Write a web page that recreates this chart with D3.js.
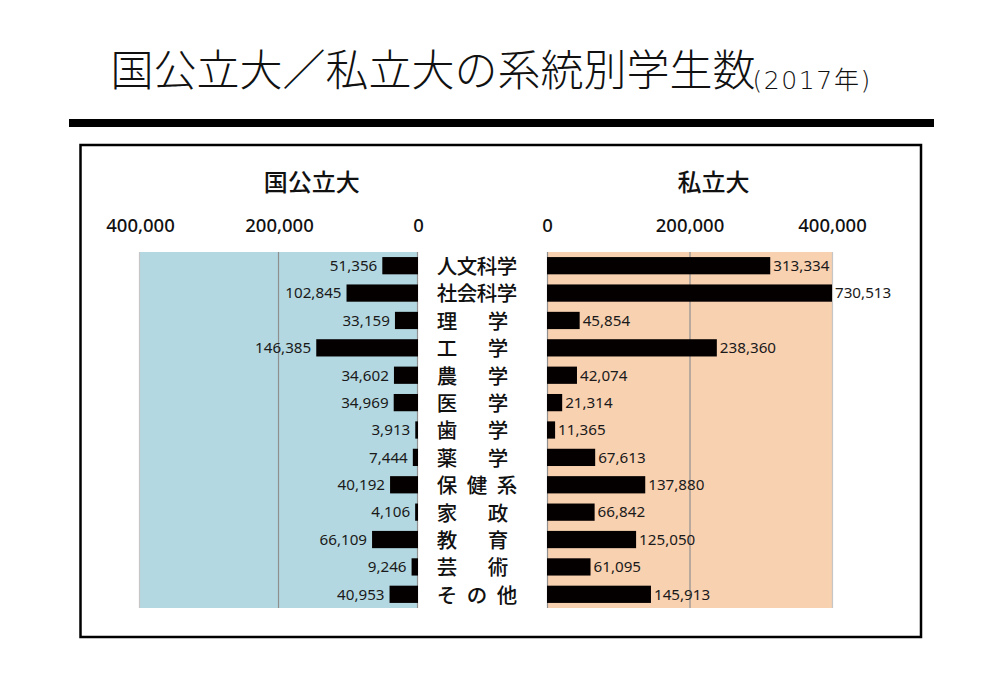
<!DOCTYPE html>
<html><head><meta charset="utf-8">
<script src="https://cdn.jsdelivr.net/npm/d3@7"></script>
<style>body{margin:0;background:#fff}</style>
</head><body><svg id="c" width="1000" height="700"></svg>
<script>
const categories = ["人文科学","社会科学","理学","工学","農学","医学","歯学","薬学","保健系","家政","教育","芸術","その他"];
const publicValues = [51356,102845,33159,146385,34602,34969,3913,7444,40192,4106,66109,9246,40953];
const privateValues = [313334,730513,45854,238360,42074,21314,11365,67613,137880,66842,125050,61095,145913];
const tickValues = [0,200000,400000];
const titleMain = "国公立大／私立大の系統別学生数";
const titleSub = "(2017年)";
const panelTitles = ["国公立大","私立大"];

const svg = d3.select("#c");
const JP = "'Noto Sans CJK JP','Noto Sans',sans-serif";
const NUM = "'Noto Sans','Noto Sans CJK JP',sans-serif";

// Title
const t = svg.append("text").attr("x",110.5).attr("y",86)
  .attr("fill","#111");
t.append("tspan").attr("font-family",JP).attr("font-weight",200).attr("font-size",43).text(titleMain);
t.append("tspan").attr("font-family","'DejaVu Sans','Noto Sans CJK JP',sans-serif").attr("font-weight",200)
  .attr("font-size",25).attr("letter-spacing",1.6).attr("dx",-3).attr("y",89).text(titleSub);

// rule
svg.append("rect").attr("x",69).attr("y",119).attr("width",865).attr("height",8).attr("fill","#000");
// frame
svg.append("rect").attr("x",80.5).attr("y",145).attr("width",840.5).attr("height",492)
  .attr("fill","none").attr("stroke","#000").attr("stroke-width",2.5);

const y = d3.scaleBand().domain(categories).range([252,608]).paddingInner(0.37).paddingOuter(0.185);
const xL = d3.scaleLinear().domain([0,400000]).range([418,140]).clamp(true);
const xR = d3.scaleLinear().domain([0,400000]).range([547,832]).clamp(true);
const fmt = d3.format(",");

function panel(x, vals, bg, side){
  const g = svg.append("g");
  const [a,b] = [x(0), x(400000)];
  g.append("rect").attr("x",Math.min(a,b)).attr("y",252).attr("width",Math.abs(a-b)).attr("height",356).attr("fill",bg);
  g.selectAll("line.grid").data(tickValues).join("line").attr("class","grid")
    .attr("x1",d=>x(d)+0.5*(side)).attr("x2",d=>x(d)+0.5*(side)).attr("y1",252).attr("y2",608)
    .attr("stroke",d=>d===400000?"#c6c6c6":"#8f8f8f").attr("stroke-width",1.2);
  const ax = d3.axisTop(x).tickValues(tickValues).tickSize(0).tickPadding(0).tickFormat(fmt);
  const axg = g.append("g").attr("transform","translate(0,232)").call(ax);
  axg.select(".domain").remove();
  axg.selectAll("text").attr("font-family",NUM).attr("font-size",18.5).attr("font-weight",500).attr("fill","#111");
  g.selectAll("rect.bar").data(vals).join("rect").attr("class","bar")
    .attr("x",d=>Math.min(x(0),x(d))).attr("width",d=>Math.abs(x(d)-x(0)))
    .attr("y",(d,i)=>y(categories[i])).attr("height",y.bandwidth()).attr("fill","#050000");
  g.selectAll("text.val").data(vals).join("text").attr("class","val")
    .attr("x",d=>side<0 ? x(d)-5 : x(d)+3)
    .attr("y",(d,i)=>y(categories[i])+y.bandwidth()/2)
    .attr("dy","0.35em")
    .attr("text-anchor",side<0?"end":"start")
    .attr("font-family",NUM).attr("font-size",15.2).attr("fill","#1a1a1a")
    .text(d=>fmt(d));
}
panel(xL, publicValues, "#b4d8e1", -1);
panel(xR, privateValues, "#f8d1b1", 1);

// panel titles
svg.append("text").attr("x",311.7).attr("y",182.5).attr("dy","0.35em").attr("text-anchor","middle")
  .attr("font-family",JP).attr("font-size",24).attr("font-weight",500).attr("fill","#111").text(panelTitles[0]);
svg.append("text").attr("x",713.5).attr("y",182.5).attr("dy","0.35em").attr("text-anchor","middle")
  .attr("font-family",JP).attr("font-size",24).attr("font-weight",500).attr("fill","#111").text(panelTitles[1]);

// category labels, distributed across a fixed width
const first = 447, lastFull = 507, lastTwo = 498;
categories.forEach(c=>{
  const chars = Array.from(c);
  const n = chars.length;
  const end = n===2 ? lastTwo : lastFull;
  const step = n>1 ? (end-first)/(n-1) : 0;
  svg.append("g").selectAll("text").data(chars).join("text")
    .attr("x",(d,i)=>first+i*step)
    .attr("y",y(c)+y.bandwidth()/2+1)
    .attr("dy","0.36em")
    .attr("text-anchor","middle")
    .attr("font-family",JP).attr("font-size",20.5).attr("font-weight",500).attr("fill","#111")
    .text(d=>d);
});
</script></body></html>
